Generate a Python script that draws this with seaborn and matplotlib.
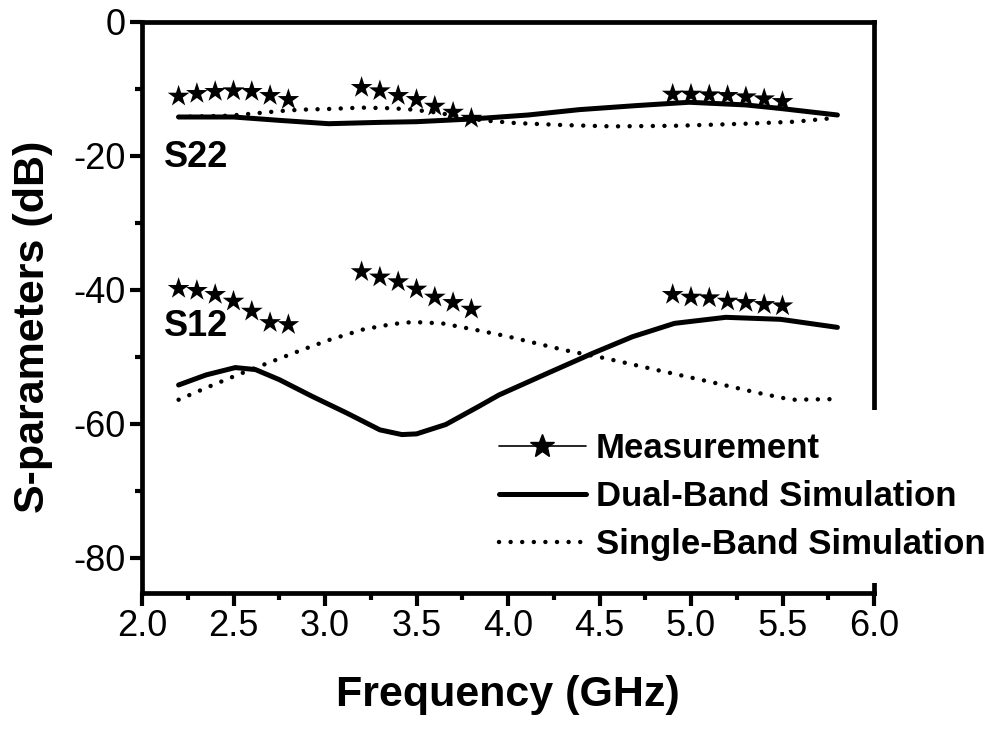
import pandas as pd
import matplotlib.pyplot as plt
import seaborn as sns
from matplotlib.lines import Line2D

# measured points (stars), three bands
meas_freq = [2.2, 2.3, 2.4, 2.5, 2.6, 2.7, 2.8,
             3.2, 3.3, 3.4, 3.5, 3.6, 3.7, 3.8,
             4.9, 5.0, 5.1, 5.2, 5.3, 5.4, 5.5]
meas_s22 = [-11.1, -10.7, -10.4, -10.3, -10.4, -11.0, -11.6,
            -9.8, -10.3, -11.0, -11.6, -12.6, -13.5, -14.4,
            -10.8, -10.8, -10.9, -11.0, -11.2, -11.5, -11.9]
meas_s12 = [-39.8, -40.1, -40.7, -41.7, -43.2, -44.9, -45.2,
            -37.3, -38.1, -38.8, -39.9, -41.1, -41.9, -42.9,
            -40.7, -41.1, -41.2, -41.7, -41.9, -42.2, -42.4]

# dual-band simulation
dual_s22_freq = [2.2, 2.5, 2.75, 3.02, 3.3, 3.5, 3.8, 4.11, 4.39, 4.7, 4.99, 5.3, 5.48, 5.8]
dual_s22 = [-14.2, -14.2, -14.7, -15.2, -15.0, -14.9, -14.5, -13.9, -13.1, -12.5, -12.0, -12.4, -12.9, -13.9]
dual_s12_freq = [2.2, 2.35, 2.51, 2.62, 2.75, 2.93, 3.12, 3.3, 3.42, 3.5, 3.66, 3.84, 3.95,
                 4.22, 4.46, 4.68, 4.91, 5.19, 5.49, 5.8]
dual_s12 = [-54.2, -52.7, -51.6, -51.9, -53.4, -55.9, -58.4, -60.9, -61.6, -61.5, -60.1, -57.4, -55.7,
            -52.4, -49.5, -47.0, -45.0, -44.1, -44.4, -45.6]

# single-band simulation
single_s22_freq = [2.2, 2.48, 2.64, 2.76, 2.87, 3.02, 3.2, 3.37, 3.48, 3.6, 3.71, 3.86, 4.04,
                   4.3, 4.57, 4.93, 5.3, 5.57, 5.8]
single_s22 = [-14.2, -14.0, -13.6, -13.3, -13.1, -13.0, -12.8, -12.9, -13.1, -13.5, -14.0, -14.7, -15.1,
              -15.4, -15.6, -15.5, -15.2, -14.9, -14.3]
single_s12_freq = [2.2, 2.37, 2.53, 2.7, 2.87, 3.02, 3.21, 3.37, 3.48, 3.64, 3.81, 3.99,
                   4.31, 4.53, 4.82, 5.1, 5.37, 5.55, 5.8]
single_s12 = [-56.4, -54.4, -52.6, -50.8, -49.0, -47.5, -45.9, -45.1, -44.8, -45.0, -45.9, -46.9,
              -49.0, -50.2, -52.0, -53.7, -55.4, -56.4, -56.3]

sns.set_style("ticks")
plt.rcParams["font.family"] = ["Liberation Sans", "DejaVu Sans"]
plt.rcParams["text.color"] = "black"
plt.rcParams["axes.labelcolor"] = "black"
plt.rcParams["xtick.color"] = "black"
plt.rcParams["ytick.color"] = "black"

fig = plt.figure(figsize=(10, 7.29), dpi=100)
ax = fig.add_axes([0.142, 0.187, 0.732, 0.783])

solid = dict(color="black", linewidth=3.6, solid_capstyle="round")
dotted = dict(color="black", linewidth=3.2, linestyle=(0, (0.01, 2.6)), dash_capstyle="round")

sns.lineplot(x=dual_s22_freq, y=dual_s22, ax=ax, sort=False, **solid)
sns.lineplot(x=dual_s12_freq, y=dual_s12, ax=ax, sort=False, **solid)
sns.lineplot(x=single_s22_freq, y=single_s22, ax=ax, sort=False, **dotted)
sns.lineplot(x=single_s12_freq, y=single_s12, ax=ax, sort=False, **dotted)

meas = pd.DataFrame({"f": meas_freq * 2, "s": meas_s22 + meas_s12})
sns.scatterplot(data=meas, x="f", y="s", ax=ax, marker="*", s=270,
                color="black", edgecolor="none", zorder=5)

ax.text(2.12, -20.3, "S22", fontsize=26, fontweight="bold", ha="left", va="center")
ax.text(2.12, -45.4, "S12", fontsize=26, fontweight="bold", ha="left", va="center")

ax.set_xlim(2.0, 6.0)
ax.set_ylim(-85.2, 0)
ax.set_xticks([2.0, 2.5, 3.0, 3.5, 4.0, 4.5, 5.0, 5.5, 6.0])
ax.set_xticks([2.25, 2.75, 3.25, 3.75, 4.25, 4.75, 5.25, 5.75], minor=True)
ax.set_yticks([0, -20, -40, -60, -80])
ax.set_yticks([-10, -30, -50, -70], minor=True)
ax.set_xticklabels(["2.0", "2.5", "3.0", "3.5", "4.0", "4.5", "5.0", "5.5", "6.0"])
ax.set_yticklabels(["0", "-20", "-40", "-60", "-80"])

for side in ["left", "right", "top", "bottom"]:
    ax.spines[side].set_visible(True)
    ax.spines[side].set_linewidth(3.4)
    ax.spines[side].set_color("black")
ax.tick_params(which="major", direction="out", length=9, width=3, labelsize=26, pad=3,
               color="black", labelcolor="black")
ax.tick_params(which="minor", direction="out", length=5, width=3, color="black")

ax.set_xlabel("Frequency (GHz)", fontsize=31, fontweight="bold", labelpad=22, color="black")
ax.set_ylabel("S-parameters (dB)", fontsize=31, fontweight="bold", color="black")
ax.yaxis.set_label_coords(-0.121, 0.465)

# measurement handle: thin line with a single star in the middle
handles = [
    Line2D([0, 0.5, 1], [0, 0, 0], color="black", linewidth=1.2, marker="*",
           markersize=18, markevery=[1]),
    Line2D([], [], **solid),
    Line2D([], [], **dotted),
]
labels = ["Measurement", "Dual-Band Simulation", "Single-Band Simulation"]
leg = fig.legend(handles, labels, loc="upper left", bbox_to_anchor=(0.477, 0.4376),
                 frameon=True, facecolor="white", edgecolor="none", framealpha=1,
                 prop={"size": 25, "weight": "bold"}, handlelength=2.5, handletextpad=0.3,
                 labelspacing=0.43, borderpad=0.63, borderaxespad=0, labelcolor="black")

fig.savefig("out.png", dpi=100, facecolor="white")
